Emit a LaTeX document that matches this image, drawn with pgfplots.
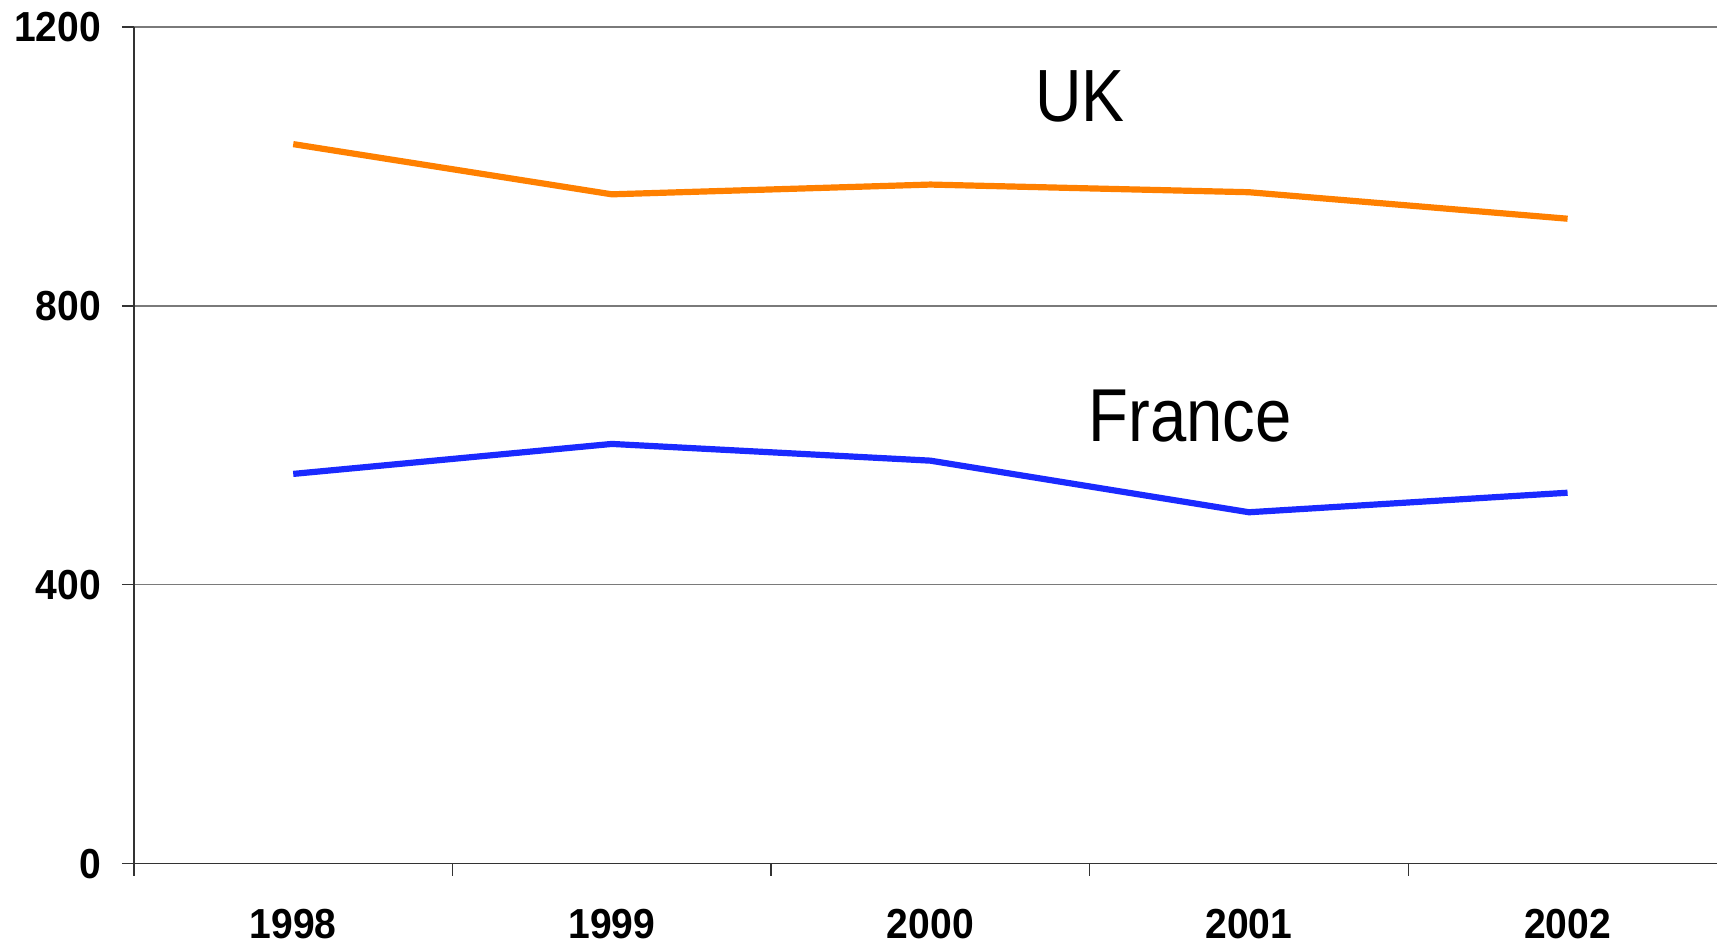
\documentclass[border=0pt]{standalone}
\usepackage{pgfplots}
\pgfplotsset{compat=1.18}
\usepackage{fontspec}
\setmainfont{Liberation Sans}
\newfontfamily\labelfont[FakeStretch=0.87]{Liberation Sans}
\newfontfamily\tickfont[FakeStretch=0.93]{Liberation Sans}
\definecolor{ukorange}{HTML}{FF8000}
\definecolor{frblue}{HTML}{1A2AFF}
\definecolor{gridgray}{HTML}{7A7A7A}
\begin{document}
\begin{tikzpicture}
\begin{axis}[
  name=main,
  scale only axis,
  width=792pt, height=418.5pt,
  xmin=-0.5, xmax=4.47,
  ymin=0, ymax=1200,
  axis x line=bottom, axis y line=left,
  axis line style={-, black!80, line width=0.7pt},
  xtick={-0.5,0.5,1.5,2.5,3.5},
  xticklabels={},
  extra x ticks={0,1,2,3,4},
  extra x tick labels={1998,1999,2000,2001,2002},
  extra x tick style={major tick length=0pt, tick style={draw=none}},
  ytick={0,400,800,1200},
  ymajorgrids,
  grid style={gridgray, line width=0.7pt},
  tick style={black!80, line width=0.7pt},
  major tick length=6pt,
  tick align=outside,
  ticklabel style={font=\tickfont\fontsize{21}{24}\selectfont\bfseries},
  /pgf/number format/assume math mode=true,
  /pgf/number format/1000 sep={},
  xticklabel style={yshift=-19pt},
  yticklabel style={xshift=-7pt},
  clip=false,
]
\addplot[ukorange, line width=3.1pt] coordinates {(0,1032) (1,960) (2,974) (3,963) (4,925)};
\addplot[frblue, line width=3.1pt] coordinates {(0,559) (1,602) (2,578) (3,504) (4,532)};
\node[font=\labelfont\fontsize{37}{40}\selectfont, anchor=center] at (axis cs:2.47,1101) {UK};
\node[font=\labelfont\fontsize{37.5}{40}\selectfont, anchor=center] at (axis cs:2.815,642) {France};
\end{axis}
\path[use as bounding box] ([xshift=-67pt,yshift=-39.5pt]main.south west) rectangle ([yshift=13.5pt]main.north east);
\end{tikzpicture}
\end{document}
